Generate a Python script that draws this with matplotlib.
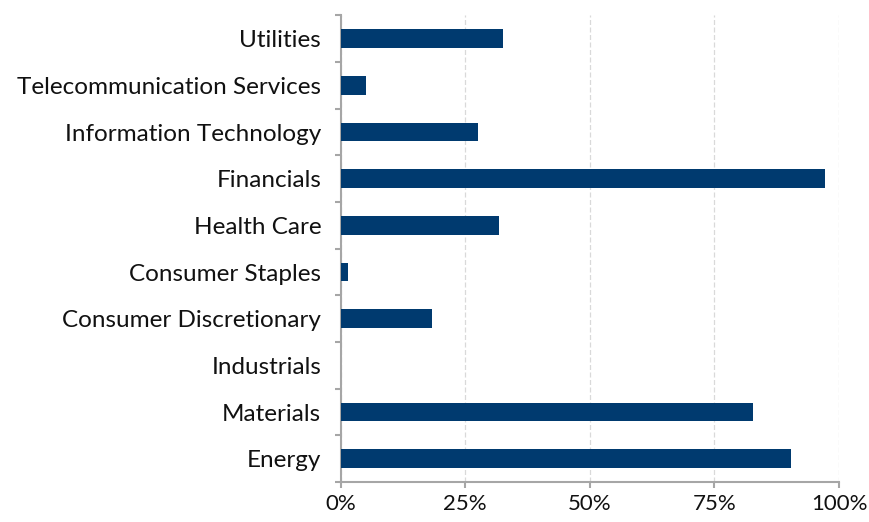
import matplotlib
matplotlib.use("Agg")
import matplotlib.pyplot as plt
import numpy as np
from matplotlib.ticker import FixedLocator, PercentFormatter

sectors = ["Energy", "Materials", "Industrials", "Consumer Discretionary",
           "Consumer Staples", "Health Care", "Financials",
           "Information Technology", "Telecommunication Services", "Utilities"]
shares = [90.4, 82.8, 0.0, 18.3, 1.4, 31.8, 97.1, 27.5, 5.0, 32.5]
x_ticks = [0, 25, 50, 75, 100]

plt.rcParams['font.family'] = ['Lato', 'DejaVu Sans']

fig = plt.figure(figsize=(8.69, 5.22), dpi=100)
ax = fig.add_axes([0.392, 0.0766, 0.5735, 0.8939])

pos = np.arange(len(sectors))
ax.barh(pos, shares, height=0.4, color="#003a6f", linewidth=0, zorder=3)

ax.set_xlim(0, 100)
ax.set_ylim(-0.5, len(sectors) - 0.5)
ax.set_xticks(x_ticks)
ax.xaxis.set_major_formatter(PercentFormatter(decimals=0))
ax.set_yticks(pos)
ax.set_yticklabels(sectors)
ax.yaxis.set_minor_locator(FixedLocator(np.arange(-0.5, len(sectors), 1.0)))

for s in ["top", "right"]:
    ax.spines[s].set_visible(False)
for s in ["left", "bottom"]:
    ax.spines[s].set_color("#a6a6a6")
    ax.spines[s].set_linewidth(1.5)

ax.tick_params(axis="y", which="major", length=0, pad=14, labelsize=17.5,
               labelcolor="#111111")
ax.tick_params(axis="y", which="minor", length=4.5, width=1.5,
               color="#a6a6a6", direction="out")
ax.tick_params(axis="x", which="major", length=4.5, width=1.5,
               color="#a6a6a6", direction="out", pad=4, labelsize=16,
               labelcolor="#111111")

ax.grid(axis="x", color="#d9d9d9", linestyle=(0, (4, 2)), linewidth=0.9,
        zorder=0)
ax.set_axisbelow(True)

fig.savefig("out.png", dpi=100)
